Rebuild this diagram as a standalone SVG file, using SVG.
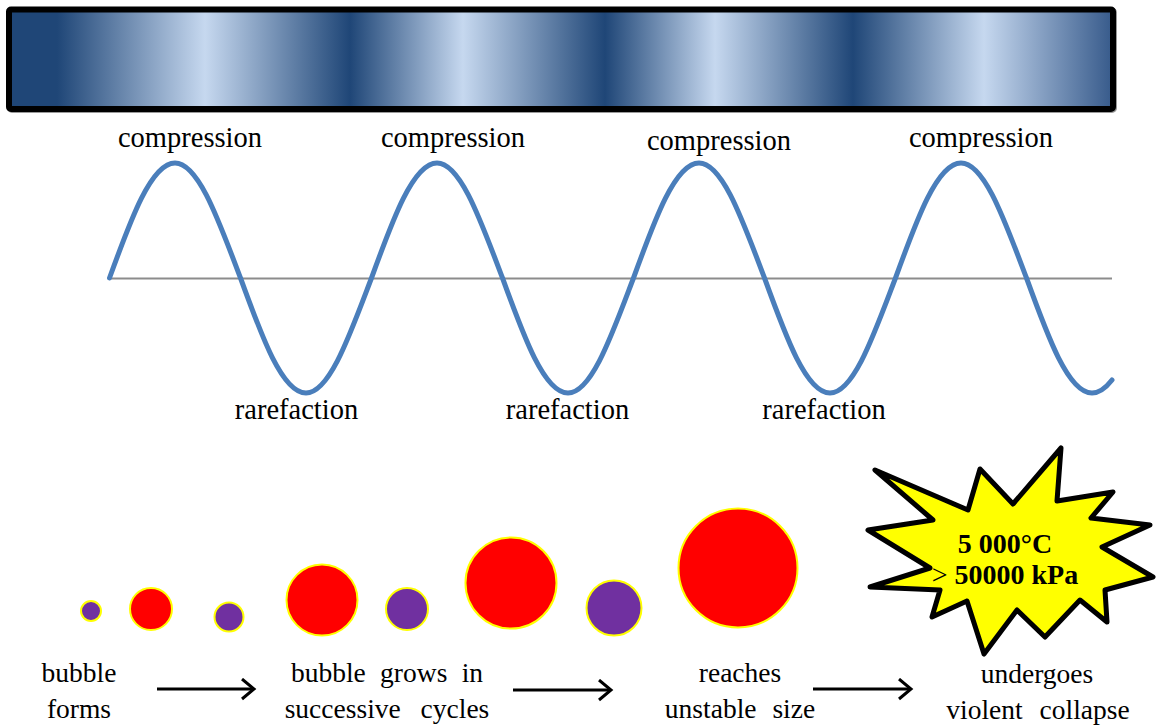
<svg xmlns="http://www.w3.org/2000/svg" width="1156" height="727" viewBox="0 0 1156 727">
<style>
.t{font-family:"Liberation Serif","Times New Roman",serif;fill:#000}
.lbl{font-size:28.5px;text-anchor:middle}
.bot{font-size:27.5px;text-anchor:middle}
.red{fill:#FF0000;stroke:#FFFF00;stroke-width:2}
.pur{fill:#7030A0;stroke:#FFFF00;stroke-width:2}
.arr{stroke:#000;stroke-width:3;fill:none}
</style>
<defs>
<linearGradient id="band" gradientUnits="userSpaceOnUse" x1="12" y1="0" x2="1110" y2="0">
<stop offset="0" stop-color="#1F4677"/>
<stop offset="0.041" stop-color="#1F4677"/>
<stop offset="0.1758" stop-color="#C6D8EF"/>
<stop offset="0.3078" stop-color="#1F4677"/>
<stop offset="0.4107" stop-color="#C6D8EF"/>
<stop offset="0.5401" stop-color="#1F4677"/>
<stop offset="0.6403" stop-color="#C6D8EF"/>
<stop offset="0.7659" stop-color="#1F4677"/>
<stop offset="0.8852" stop-color="#C6D8EF"/>
<stop offset="1" stop-color="#3A5D8D"/>
</linearGradient>
<marker id="ah" markerUnits="userSpaceOnUse" markerWidth="20" markerHeight="26" refX="14" refY="11" orient="auto">
<path d="M2,1 L14,11 L2,21" fill="none" stroke="#000" stroke-width="3"/>
</marker>
</defs>
<rect width="1156" height="727" fill="#FFFFFF"/>

<g id="pressure-bar">
<rect x="10" y="10.5" width="1104" height="99.5" rx="2" fill="none" stroke="#9A9A9A" stroke-width="6"/>
<rect x="9" y="9.5" width="1104" height="99.5" rx="2" fill="url(#band)" stroke="#000" stroke-width="6"/>
</g>

<g id="wave">
<line x1="109" y1="278.5" x2="1112" y2="278.5" stroke="#8C8C8C" stroke-width="2"/>
<path d="M109.5,278 c21.36,-58.91 41.8,-115 65.5,-115 c23.7,0 44.14,58.91 65.5,115 c21.36,58.91 41.8,115 65.5,115 c23.7,0 44.14,-58.91 65.5,-115 c21.36,-58.91 41.8,-115 65.5,-115 c23.7,0 44.14,58.91 65.5,115 c21.36,58.91 41.8,115 65.5,115 c23.7,0 44.14,-58.91 65.5,-115 c21.36,-58.91 41.8,-115 65.5,-115 c23.7,0 44.14,58.91 65.5,115 c21.36,58.91 41.8,115 65.5,115 c23.7,0 44.14,-58.91 65.5,-115 c21.36,-58.91 41.8,-115 65.5,-115 c23.7,0 44.14,58.91 65.5,115 c21.36,58.91 41.8,115 65.5,115 c6.67,0 13.33,-4.5 20,-13" fill="none" stroke="#4A7EBB" stroke-width="5" stroke-linecap="round"/>
</g>

<g id="wave-labels">
<text class="t lbl" x="190" y="147">compression</text>
<text class="t lbl" x="453" y="147">compression</text>
<text class="t lbl" x="719" y="150">compression</text>
<text class="t lbl" x="981" y="147">compression</text>
<text class="t lbl" x="296.5" y="419">rarefaction</text>
<text class="t lbl" x="567.5" y="419">rarefaction</text>
<text class="t lbl" x="824" y="419">rarefaction</text>
</g>

<g id="bubbles">
<circle class="pur" cx="91" cy="611" r="10"/>
<circle class="red" cx="151" cy="609" r="21"/>
<circle class="pur" cx="229" cy="617" r="14.5"/>
<circle class="red" cx="322" cy="600" r="35.5"/>
<circle class="pur" cx="407" cy="609" r="21"/>
<circle class="red" cx="511" cy="583" r="45.5"/>
<circle class="pur" cx="614" cy="608" r="27.5"/>
<circle class="red" cx="738" cy="568" r="59.5"/>
</g>

<g id="collapse-burst">
<polygon points="875,470 968,510 980,469 1013,504 1061,448 1057,501 1113,492 1091,518 1150,525 1102,547 1153,577 1105,590 1107,622 1080,600 1045,637 1017,610 984,654 967,601 932,617 940,590 870,587 930,568 868,530 933,520" fill="#FFFF00" stroke="#000" stroke-width="5" stroke-linejoin="round"/>
<text class="t" x="1005" y="553" font-size="28" font-weight="bold" text-anchor="middle">5 000°C</text>
<text class="t" x="1005" y="584" font-size="28" text-anchor="middle">&gt;<tspan font-weight="bold"> 50000 kPa</tspan></text>
</g>

<g id="stage-labels">
<text class="t bot" x="79" y="682">bubble</text>
<text class="t bot" x="79" y="718">forms</text>
<text class="t bot" x="387" y="682" word-spacing="7.5">bubble grows in</text>
<text class="t bot" x="387" y="718" word-spacing="13">successive cycles</text>
<text class="t bot" x="740" y="682">reaches</text>
<text class="t bot" x="740" y="718" word-spacing="9">unstable size</text>
<text class="t bot" x="1037" y="683">undergoes</text>
<text class="t bot" x="1038" y="719" word-spacing="10">violent collapse</text>
</g>

<g id="connectors">
<line class="arr" x1="157" y1="689" x2="254" y2="689" marker-end="url(#ah)"/>
<line class="arr" x1="513" y1="690" x2="611" y2="690" marker-end="url(#ah)"/>
<line class="arr" x1="813" y1="689" x2="911" y2="689" marker-end="url(#ah)"/>
</g>
</svg>
